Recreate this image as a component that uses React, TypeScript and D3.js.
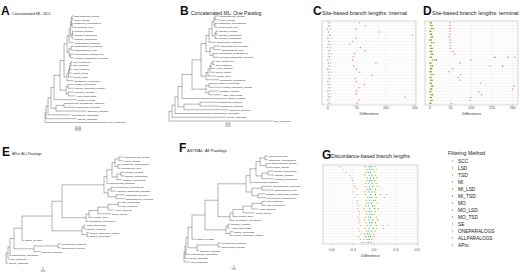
import React from 'react';
import * as d3 from 'd3';

const FONT = '"Liberation Sans", Arial, Helvetica, sans-serif';

// ---------------- filtering methods (legend) ----------------
const METHODS = ['SCC', 'LSD', 'TSD', 'MI', 'MI_LSD', 'MI_TSD', 'MO', 'MO_LSD', 'MO_TSD', 'SE', 'ONEPARALOGS', 'ALLPARALOGS', 'APro'];
const METHOD_COLORS = ['#F8766D', '#E18A00', '#BE9C00', '#8CAB00', '#24B700', '#00BE70', '#00C1AB', '#00BBDA', '#00ACFC', '#8B93FF', '#D575FE', '#F962DD', '#FF65AC'];

// ---------------- trees (Newick, branch lengths) ----------------
// A: Concatenated ML, SCC (substitutions / site)
const A_PAPIONINI = `(((Theropithecus_gelada:.0021,Papio_anubis:.0021):.0007,(Mandrillus_leucophaeus:.0014,Cercocebus_atys:.0014):.0007):.0014,((Macaca_mulatta:.0014,Macaca_fascicularis:.0014):.0007,Macaca_nemestrina:.0021):.0021)`;
const A_OWM = `((${A_PAPIONINI}:.0021,Chlorocebus_sabaeus:.0071):.0029,((Rhinopithecus_roxellana:.0043,Rhinopithecus_bieti:.0043):.0029,(Piliocolobus_tephrosceles:.0043,Colobus_angolensis_palliatus:.005):.0021):.0029)`;
const A_APES = `(((((Pan_troglodytes:.0014,Pan_paniscus:.0014):.0014,Homo_sapiens:.0029):.0007,Gorilla_gorilla:.0036):.0014,Pongo_abelii:.0064):.0021,Nomascus_leucogenys:.0093)`;
const A_NWM = `((Saimiri_boliviensis:.0086,Cebus_capucinus_imitator:.0093):.0029,(Callithrix_jacchus:.0086,Aotus_nancymaae:.01):.0029)`;
const A_STREP = `((Propithecus_coquereli:.0214,Microcebus_murinus:.0171):.0114,Otolemur_garnettii:.0443)`;
const TREE_A = `(((((((${A_OWM}:.0043,${A_APES}:.0043):.0057,${A_NWM}:.0086):.0086,Carlito_syrichta:.0329):.0043,${A_STREP}:.0071):.0043,Galeopterus_variegatus:.0329):.0029,Tupaia_chinensis:.0443):.0014,Mus_musculus:.09);`;

// B: Concatenated ML, one paralog
const B_PAPIONINI = `(((Theropithecus_gelada:.67,Papio_anubis:.67):.17,(Mandrillus_leucophaeus:.5,Cercocebus_atys:.5):.17):.33,((Macaca_mulatta:.33,Macaca_fascicularis:.33):.17,Macaca_nemestrina:.5):.5)`;
const B_OWM = `((${B_PAPIONINI}:.5,Chlorocebus_sabaeus:1.17):.5,((Rhinopithecus_roxellana:1,Rhinopithecus_bieti:1.17):.67,(Piliocolobus_tephrosceles:.83,Colobus_angolensis_palliatus:1):.5):.67)`;
const B_APES = `(((((Pan_troglodytes:.33,Pan_paniscus:.33):.33,Homo_sapiens:.67):.17,Gorilla_gorilla:.83):.33,Pongo_abelii:1.33):.33,Nomascus_leucogenys:2.17)`;
const B_NWM = `((Saimiri_boliviensis:1.5,Cebus_capucinus_imitator:2.17):.5,(Callithrix_jacchus:1.67,Aotus_nancymaae:2):.5)`;
const B_STREP = `((Propithecus_coquereli:2.83,Microcebus_murinus:3.17):2.67,Otolemur_garnettii:7.5)`;
const TREE_B = `(((((((${B_OWM}:.83,${B_APES}:.83):1.5,${B_NWM}:2.33):1.67,Carlito_syrichta:7.5):.67,${B_STREP}:1):.5,Galeopterus_variegatus:6.17):.5,Tupaia_chinensis:9):.5,Mus_musculus:17.33);`;

// E: APro, all paralogs (coalescent units)
const E_PAPIONINI = `(((Theropithecus_gelada:1,Papio_anubis:1):.8,(Mandrillus_leucophaeus:.6,Cercocebus_atys:.6):.6):.6,((Macaca_mulatta:.6,Macaca_fascicularis:.6):.8,Macaca_nemestrina:1):1)`;
const E_OWM = `((${E_PAPIONINI}:1,Chlorocebus_sabaeus:.4):.6,((Piliocolobus_tephrosceles:.6,Colobus_angolensis_palliatus:1):.6,(Rhinopithecus_bieti:1.8,Rhinopithecus_roxellana:1.8):1.6):.8)`;
const E_APES = `(((((Pan_troglodytes:.6,Pan_paniscus:.6):2,Homo_sapiens:1.2):2,Gorilla_gorilla:2.6):1.8,Pongo_abelii:.8):.6,Nomascus_leucogenys:.6)`;
const E_NWM = `((Aotus_nancymaae:.2,Callithrix_jacchus:.2):.4,(Cebus_capucinus_imitator:.4,Saimiri_boliviensis:.4):1)`;
const E_STREP = `((Propithecus_coquereli:.6,Microcebus_murinus:.6):4.8,Otolemur_garnettii:1.4)`;
const TREE_E = `(((((((${E_OWM}:8.4,${E_APES}:4.8):2,${E_NWM}:6):6,Carlito_syrichta:.4):1.6,${E_STREP}:4):.8,Galeopterus_variegatus:.2):.4,Mus_musculus:.2):.4,Tupaia_chinensis:.4);`;

// F: ASTRAL, all paralogs (coalescent units)
const F_PAPIONINI = `(((Cercocebus_atys:.6,Mandrillus_leucophaeus:.6):1,(Theropithecus_gelada:1,Papio_anubis:1.4):1.2):.8,((Macaca_fascicularis:1,Macaca_mulatta:1.2):1.2,Macaca_nemestrina:2.4):1.2)`;
const F_OWM = `((${F_PAPIONINI}:1.2,Chlorocebus_sabaeus:.6):.8,((Rhinopithecus_roxellana:2,Rhinopithecus_bieti:2.4):2,(Colobus_angolensis_palliatus:1.4,Piliocolobus_tephrosceles:1.6):1.2):1.2)`;
const F_APES = `(((((Pan_paniscus:.8,Pan_troglodytes:.8):2,Homo_sapiens:1.2):1.8,Gorilla_gorilla:2.4):2,Pongo_abelii:1):.6,Nomascus_leucogenys:1)`;
const F_NWM = `((Callithrix_jacchus:.4,Aotus_nancymaae:.4):.4,(Saimiri_boliviensis:.6,Cebus_capucinus_imitator:.6):.8)`;
const F_STREP = `((Propithecus_coquereli:.6,Microcebus_murinus:.6):4.2,Otolemur_garnettii:.4)`;
const TREE_F = `(((((((${F_OWM}:5.6,${F_APES}:2.4):2.6,${F_NWM}:4.2):2.6,Carlito_syrichta:.8):.8,${F_STREP}:1.8):.4,Galeopterus_variegatus:.8):.2,Tupaia_chinensis:.6):.2,Mus_musculus:1.2);`;

// ---------------- dot plots ----------------
// C: site-based branch lengths, internal branches (difference)
const C_MAIN = [55, 65, 48, 88, 146, 49, 43, 38, 56, 64, 46, 44, 43, 83, 45, 49, 55, 76, 47, 49, 63, 54, 49, 49, 133, 54, 50];
const C_NEAR_1 = [1, 2, 0, 1, 3, 0, 2, 1, 0, 2, 1, 3, 0, 1, 2, 0, 1, 3, 2, 0, 1, 2, 0, 1, 2, 0, 1];
const C_NEAR_2 = [4, 3, 5, 2, 4, 6, 3, 4, 5, 3, 6, 2, 4, 5, 3, 4, 6, 2, 5, 3, 4, 5, 3, 6, 4, 3, 5];
const C_TICKS = [0, 50, 100, 150];

// D: site-based branch lengths, terminal branches
const D_MAIN = [48, 48, 48, 49, 48, 46, 48, 49, 49, 49, 55, 60, 205, 99, 72, 145, 55, 46, 74, 68, 72, 122, 203, 200, 118, 125, 99, 97, 52];
const D_SECOND = [null, null, null, null, null, null, null, null, null, null, null, null, 157, 16, null, 176, null, null, null, null, null, null, null, null, null, null, null, null, null];
const D_THIRD = [null, null, null, null, null, null, null, null, null, null, null, null, 189, null, null, null, null, null, null, null, null, null, null, null, null, null, null, null, null];
const D_NEAR_1 = [3, 5, 8, 2, 4, 6, 3, 9, 2, 5, 4, 7, 3, 12, 2, 6, 4, 3, 8, 2, 5, 3, 7, 4, 2, 6, 3, 5, 2];
const D_NEAR_2 = [1, 2, 4, 0, 1, 3, 0, 4, 1, 2, 0, 3, 1, 6, 0, 2, 1, 0, 3, 1, 2, 0, 4, 1, 0, 3, 1, 2, 0];
const D_TICKS = [0, 50, 100, 150, 200];

// G: discordance-based branch lengths
const G_LEFT = [-0.47, -0.43, -0.39, -0.34, -0.31, -0.30, -0.28, -0.27, -0.25, -0.29, -0.24, -0.27, -0.23, -0.24, -0.22, -0.23, -0.21, -0.20, -0.22, -0.20, -0.21, -0.19, -0.22, -0.20, -0.18, -0.21, -0.19, -0.17];
const G_1 = [-0.12, -0.10, -0.11, -0.13, -0.09, -0.10, -0.12, -0.11, -0.10, -0.13, -0.12, -0.09, -0.11, -0.10, -0.12, -0.14, -0.11, -0.10, -0.12, -0.13, -0.11, -0.09, -0.12, -0.10, -0.13, -0.12, -0.14, -0.15];
const G_2 = [-0.04, -0.02, -0.05, -0.03, -0.01, -0.04, -0.03, -0.02, -0.05, -0.03, 0.02, -0.04, -0.01, -0.03, -0.02, 0.01, -0.04, -0.03, -0.05, -0.02, -0.03, 0.03, -0.01, -0.04, -0.06, -0.05, -0.07, -0.08];
const G_3 = [0.01, 0.03, 0.00, 0.02, 0.04, 0.01, 0.03, 0.05, 0.02, 0.01, 0.09, 0.03, 0.02, 0.04, 0.01, 0.06, 0.02, 0.00, 0.03, 0.05, 0.02, 0.12, 0.04, 0.01, -0.01, 0.00, -0.03, -0.04];
const G_4 = [-0.07, -0.06, -0.08, -0.07, -0.05, -0.06, -0.08, -0.06, -0.07, -0.08, -0.05, -0.07, -0.06, -0.07, -0.08, -0.06, -0.07, -0.06, -0.08, -0.07, -0.06, -0.05, -0.07, -0.08, -0.09, -0.08, -0.10, -0.11];
const G_RIGHT = [null, null, null, null, null, null, null, null, null, null, 0.17, 0.14, null, null, null, null, null, null, null, null, null, 0.19, 0.13, null, null, null, null, null];
const G_TICKS = [-0.6, -0.3, 0, 0.3, 0.6];

// ---------------- Newick parser ----------------
type TNode = { name: string; length: number; children: TNode[] };
function parseNewick(s: string): TNode {
  let i = 0;
  function node(): TNode {
    const n: TNode = { name: '', length: 0, children: [] };
    if (s[i] === '(') {
      i++;
      n.children.push(node());
      while (s[i] === ',') { i++; n.children.push(node()); }
      i++;
    }
    let name = '';
    while (i < s.length && !',():;'.includes(s[i])) name += s[i++];
    n.name = name.trim();
    if (s[i] === ':') {
      i++;
      let num = '';
      while (i < s.length && !',();'.includes(s[i])) num += s[i++];
      n.length = parseFloat(num);
    }
    return n;
  }
  return node();
}

type TreeCfg = {
  newick: string; x0: number; ppu: number; yTop: number; yBot: number;
  bar: { value: number; label: string; cx: number; y: number };
};

const TREE_COLOR = '#5a5a5a';

function Tree({ cfg }: { cfg: TreeCfg }) {
  const root: any = d3.hierarchy(parseNewick(cfg.newick), (d: TNode) => (d.children.length ? d.children : null));
  root.eachBefore((d: any) => { d.dist = d.parent ? d.parent.dist + d.data.length : 0; });
  const leaves: any[] = root.leaves();
  const y = d3.scaleLinear().domain([0, leaves.length - 1]).range([cfg.yTop, cfg.yBot]);
  leaves.forEach((l, i) => { l.yy = y(i); });
  root.eachAfter((d: any) => {
    if (d.children) d.yy = (d.children[0].yy + d.children[d.children.length - 1].yy) / 2;
  });
  const x = d3.scaleLinear().domain([0, 1]).range([cfg.x0, cfg.x0 + cfg.ppu]);
  const nodes: any[] = root.descendants();
  const barLen = x(cfg.bar.value) - x(0);
  return (
    <g>
      {nodes.filter((d) => d.parent).map((d, i) => (
        <line key={'h' + i} x1={x(d.parent.dist)} x2={x(d.dist)} y1={d.yy} y2={d.yy} stroke={TREE_COLOR} strokeWidth={0.45} />
      ))}
      {nodes.filter((d) => d.children).map((d, i) => (
        <line key={'v' + i} x1={x(d.dist)} x2={x(d.dist)} y1={d.children[0].yy - 0.22} y2={d.children[d.children.length - 1].yy + 0.22} stroke={TREE_COLOR} strokeWidth={0.45} />
      ))}
      {leaves.map((l, i) => (
        <text key={'t' + i} x={x(l.dist) + 0.7} y={l.yy} dy="0.35em" fontSize={2.5} fill="#222" fontFamily={FONT}>{l.data.name}</text>
      ))}
      <line x1={cfg.bar.cx - barLen / 2} x2={cfg.bar.cx + barLen / 2} y1={cfg.bar.y} y2={cfg.bar.y} stroke="#333" strokeWidth={0.5} />
      <text x={cfg.bar.cx} y={cfg.bar.y - 1.2} textAnchor="middle" fontSize={3.2} fill="#222" fontFamily={FONT}>{cfg.bar.label}</text>
    </g>
  );
}

type Series = { values: (number | null)[]; color: string; r: number; opacity?: number };
type PlotCfg = {
  x: number; y: number; w: number; h: number; domain: [number, number]; ticks: number[];
  fmt: (v: number) => string; series: Series[]; rows: number; tickDy: number; titleDy: number;
};

function DotPlot({ cfg }: { cfg: PlotCfg }) {
  const x = d3.scaleLinear().domain(cfg.domain).range([cfg.x, cfg.x + cfg.w]);
  const idx = d3.range(cfg.rows);
  const y = d3.scalePoint<number>().domain(idx).range([cfg.y, cfg.y + cfg.h]).padding(0.6);
  const bottom = cfg.y + cfg.h;
  return (
    <g>
      <rect x={cfg.x} y={cfg.y} width={cfg.w} height={cfg.h} fill="#fff" />
      {idx.map((i) => (
        <line key={'gr' + i} x1={cfg.x} x2={cfg.x + cfg.w} y1={y(i)} y2={y(i)} stroke="#e6e6e6" strokeWidth={0.35} />
      ))}
      {cfg.ticks.map((t, i) => (
        <line key={'gv' + i} x1={x(t)} x2={x(t)} y1={cfg.y} y2={bottom} stroke="#ececec" strokeWidth={0.35} />
      ))}
      {cfg.series.map((s, si) => (
        <g key={'s' + si}>
          {s.values.map((v, i) => (v === null ? null : (
            <circle key={i} cx={x(v)} cy={y(i)} r={s.r} fill={s.color} opacity={s.opacity ?? 1} />
          )))}
        </g>
      ))}
      <rect x={cfg.x} y={cfg.y} width={cfg.w} height={cfg.h} fill="none" stroke="#9a9a9a" strokeWidth={0.4} />
      {cfg.ticks.map((t, i) => (
        <g key={'tk' + i}>
          <line x1={x(t)} x2={x(t)} y1={bottom} y2={bottom + 1} stroke="#555" strokeWidth={0.3} />
          <text x={x(t)} y={bottom + cfg.tickDy} textAnchor="middle" fontSize={3.5} fill="#4d4d4d" fontFamily={FONT}>{cfg.fmt(t)}</text>
        </g>
      ))}
      <text x={cfg.x + cfg.w / 2} y={bottom + cfg.titleDy} textAnchor="middle" fontSize={4.2} fill="#333" fontFamily={FONT}>Difference</text>
    </g>
  );
}

const TREES: TreeCfg[] = [
  { newick: TREE_A, x0: 45, ppu: 700, yTop: 16, yBot: 122.5, bar: { value: 0.01, label: '0.01', cx: 78, y: 130 } },
  { newick: TREE_B, x0: 169, ppu: 6, yTop: 16, yBot: 121, bar: { value: 0.9, label: '0.9', cx: 228, y: 126 } },
  { newick: TREE_E, x0: 6, ppu: 5, yTop: 157, yBot: 263, bar: { value: 1, label: '1', cx: 43, y: 271 } },
  { newick: TREE_F, x0: 184, ppu: 5, yTop: 156, yBot: 262, bar: { value: 1, label: '1', cx: 234, y: 269 } },
];

const fmtInt = (v: number) => String(v);
const fmtG = (v: number) => d3.format('.1f')(v);

const PLOTS: PlotCfg[] = [
  {
    x: 322, y: 21, w: 94, h: 84, domain: [-10, 152], ticks: C_TICKS, fmt: fmtInt, rows: C_MAIN.length, tickDy: 4.2, titleDy: 9.6,
    series: [
      { values: C_NEAR_2, color: '#c4c4c4', r: 0.7 },
      { values: C_NEAR_1, color: '#a8a8a8', r: 0.7 },
      { values: C_MAIN, color: METHOD_COLORS[0], r: 0.75, opacity: 0.85 },
    ],
  },
  {
    x: 425, y: 21, w: 93, h: 84, domain: [-12, 213], ticks: D_TICKS, fmt: fmtInt, rows: D_MAIN.length, tickDy: 4.2, titleDy: 9.6,
    series: [
      { values: D_NEAR_1, color: METHOD_COLORS[4], r: 0.75 },
      { values: D_NEAR_2, color: METHOD_COLORS[3], r: 0.75 },
      { values: D_MAIN, color: METHOD_COLORS[0], r: 0.75, opacity: 0.85 },
      { values: D_SECOND, color: '#777', r: 0.75 },
      { values: D_THIRD, color: METHOD_COLORS[12], r: 0.75 },
    ],
  },
  {
    x: 323, y: 165, w: 95, h: 79, domain: [-0.71, 0.61], ticks: G_TICKS, fmt: fmtG, rows: G_LEFT.length, tickDy: 6.5, titleDy: 12.5,
    series: [
      { values: G_LEFT, color: METHOD_COLORS[0], r: 0.6, opacity: 0.8 },
      { values: G_1, color: METHOD_COLORS[1], r: 0.6 },
      { values: G_4, color: METHOD_COLORS[7], r: 0.6 },
      { values: G_2, color: METHOD_COLORS[4], r: 0.6 },
      { values: G_3, color: METHOD_COLORS[2], r: 0.6 },
      { values: G_RIGHT, color: METHOD_COLORS[10], r: 0.6 },
    ],
  },
];

const HEADERS = [
  { letter: 'A', lx: 1, ly: 15, title: 'Concatenated ML: SCC', tx: 12, ty: 14.5, ts: 3.7 },
  { letter: 'B', lx: 180, ly: 15, title: 'Concatenated ML: One Paralog', tx: 191, ty: 14.5, ts: 5 },
  { letter: 'C', lx: 313, ly: 15, title: 'Site-based branch lengths: internal', tx: 322, ty: 14.5, ts: 5.5 },
  { letter: 'D', lx: 423, ly: 15, title: 'Site-based branch lengths: terminal', tx: 432, ty: 14.5, ts: 5.5 },
  { letter: 'E', lx: 2, ly: 156, title: 'APro: ALL Paralogs', tx: 12, ty: 155, ts: 3.4 },
  { letter: 'F', lx: 179, ly: 152, title: 'ASTRAL: All Paralogs', tx: 187, ty: 151.5, ts: 4.1 },
  { letter: 'G', lx: 322, ly: 159, title: 'Discordance-based branch lengths', tx: 331, ty: 158, ts: 5.1 },
];

export default function App() {
  React.useEffect(() => { document.body.style.margin = '0'; }, []);
  const legendY = d3.scaleLinear().domain([0, METHODS.length - 1]).range([161, 245]);
  return (
    <svg width={520} height={276} viewBox="0 0 520 276" style={{ position: 'absolute', left: 0, top: 0, display: 'block', background: '#fff' }}>
      <rect width={520} height={276} fill="#fff" />
      {HEADERS.map((h) => (
        <g key={h.letter}>
          <text x={h.lx} y={h.ly} fontSize={12} fontWeight="bold" fill="#111" fontFamily={FONT}>{h.letter}</text>
          <text x={h.tx} y={h.ty} fontSize={h.ts} fill="#222" fontFamily={FONT}>{h.title}</text>
        </g>
      ))}
      {TREES.map((t, i) => <Tree key={i} cfg={t} />)}
      {PLOTS.map((p, i) => <DotPlot key={i} cfg={p} />)}
      <g>
        <text x={448} y={155} fontSize={5.2} fill="#222" fontFamily={FONT}>Filtering Method</text>
        {METHODS.map((m, i) => (
          <g key={m}>
            <circle cx={452.5} cy={legendY(i)} r={0.7} fill={METHOD_COLORS[i]} />
            <text x={458} y={legendY(i)} dy="0.35em" fontSize={4.8} fill="#222" fontFamily={FONT}>{m}</text>
          </g>
        ))}
      </g>
    </svg>
  );
}
